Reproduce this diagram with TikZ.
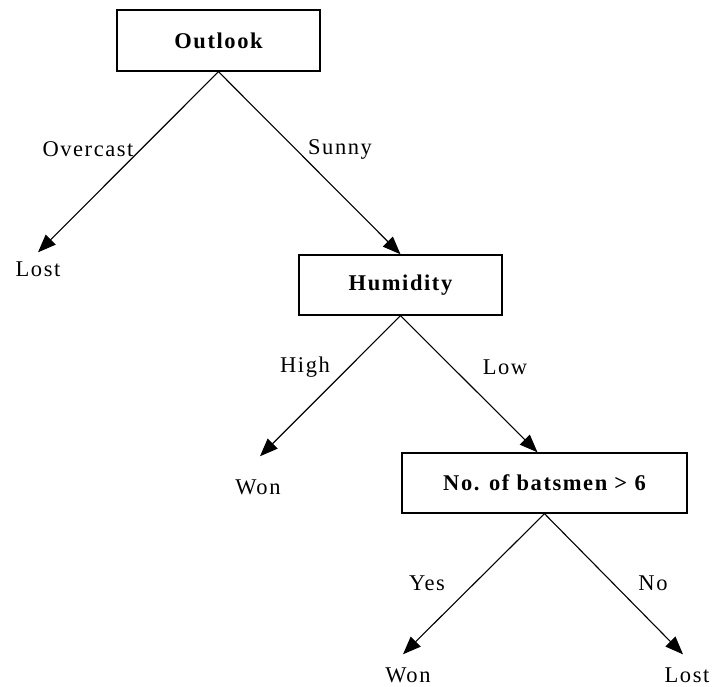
\documentclass[tikz,border=0pt]{standalone}
\usepackage{fontspec}
\setmainfont{Liberation Serif}[LetterSpace=7]
\usetikzlibrary{arrows.meta}
\tikzset{
  box/.style={draw, line width=1.4pt, inner sep=0pt, font=\fontsize{22.5}{26}\selectfont\bfseries},
  leaf/.style={inner sep=0pt, font=\fontsize{22.5}{26}\selectfont},
  lbl/.style={inner sep=0pt, font=\fontsize{22.5}{26}\selectfont},
  arr/.style={line width=1.1pt, -{Triangle[length=18pt,width=14pt]}}
}
\begin{document}
\begin{tikzpicture}[x=1pt,y=-1pt]
\useasboundingbox (0,0) rectangle (713,687);
\node[box, minimum width=203pt, minimum height=61pt] (outlook) at (218.5,40.5) {Outlook};
\node[box, minimum width=203pt, minimum height=60pt] (humidity) at (400.5,285) {Humidity};
\node[box, minimum width=285pt, minimum height=60pt] (bats) at (544.5,483) {No. of batsmen > 6};
\node[leaf] (lost1) at (38,269) {Lost};
\node[leaf] (won1) at (258,487) {Won};
\node[leaf] (won2) at (408,675) {Won};
\node[leaf] (lost2) at (687,675) {Lost};
\node[lbl] (overcast) at (88,149) {Overcast};
\node[lbl] (sunny) at (340,149) {Sunny};
\node[lbl] (high) at (305,367) {High};
\node[lbl] (low) at (505,367) {Low};
\node[lbl] (yes) at (427,583) {Yes};
\node[lbl] (no) at (653,583) {No};
\draw[arr] (outlook.south) -- ([yshift=9pt]lost1.north);
\draw[arr] (outlook.south) -- (humidity.north);
\draw[arr] (humidity.south) -- ([yshift=23pt,xshift=2pt]won1.north);
\draw[arr] (humidity.south) -- ([xshift=-7pt]bats.north);
\draw[arr] (bats.south) -- ([yshift=13pt,xshift=-5pt]won2.north);
\draw[arr] (bats.south) -- ([yshift=13pt,xshift=-4pt]lost2.north);
\end{tikzpicture}
\end{document}
